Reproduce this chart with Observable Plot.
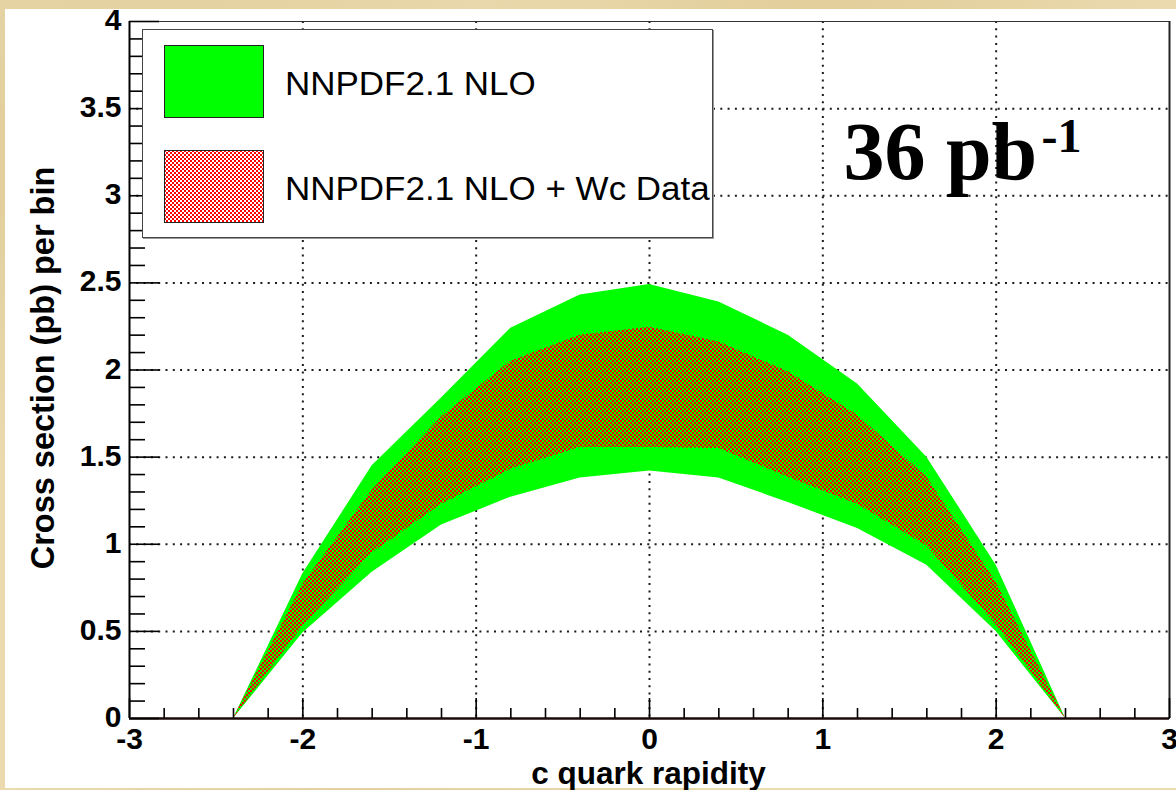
<!DOCTYPE html>
<html>
<head>
<meta charset="utf-8">
<script src="https://cdn.jsdelivr.net/npm/d3@7"></script>
<script src="https://cdn.jsdelivr.net/npm/@observablehq/plot@0.6"></script>
<style>
  html, body { margin: 0; padding: 0; width: 1176px; height: 790px; overflow: hidden; }
  body {
    position: relative;
    font-family: "Liberation Sans", Arial, sans-serif;
    background:
      radial-gradient(ellipse at 12% 20%, rgba(205,175,110,0.35), transparent 35%),
      radial-gradient(ellipse at 70% 5%, rgba(210,180,115,0.35), transparent 30%),
      radial-gradient(ellipse at 95% 70%, rgba(205,175,110,0.3), transparent 30%),
      radial-gradient(ellipse at 30% 98%, rgba(215,185,125,0.3), transparent 30%),
      #eadaae;
  }
  #panel { position: absolute; left: 5px; top: 9px; width: 1171px; height: 779px; background: #fff; }
  #chart { position: absolute; left: 0; top: 0; }
  #legend {
    position: absolute; left: 142px; top: 29px; width: 571px; height: 209px;
    box-sizing: border-box; background: #fff; border: 1px solid #444;
    box-shadow: 1px 1px 0 #999;
  }
  .sw { position: absolute; left: 21px; width: 100px; height: 73px; display: block; }
  .lab { position: absolute; left: 142px; font-size: 33px; line-height: 1; color: #000; white-space: nowrap;
         font-family: "Liberation Sans", Arial, sans-serif; transform: scaleX(1.06); transform-origin: left center; }
</style>
</head>
<body>
<div id="panel"></div>
<div id="chart"></div>
<div id="legend"></div>
<script>
// ---- data ----
const rapidity = [-2.4, -2, -1.6, -1.2, -0.8, -0.4, 0, 0.4, 0.8, 1.2, 1.6, 2, 2.4];
const nloHigh  = [0, 0.83, 1.45, 1.84, 2.24, 2.43, 2.49, 2.39, 2.20, 1.92, 1.50, 0.88, 0];
const nloLow   = [0, 0.49, 0.84, 1.11, 1.27, 1.38, 1.42, 1.38, 1.24, 1.09, 0.88, 0.50, 0];
const wcHigh   = [0, 0.77, 1.31, 1.73, 2.05, 2.20, 2.245, 2.16, 1.99, 1.74, 1.385, 0.78, 0];
const wcLow    = [0, 0.53, 0.95, 1.23, 1.43, 1.555, 1.555, 1.55, 1.385, 1.23, 0.99, 0.54, 0];

const xTicks = [-3, -2, -1, 0, 1, 2, 3];
const yTicks = [0, 0.5, 1, 1.5, 2, 2.5, 3, 3.5, 4];
const xLabel = "c quark rapidity";
const yLabel = "Cross section (pb) per bin";
const legendLabels = ["NNPDF2.1 NLO", "NNPDF2.1 NLO + Wc Data"];
const lumiText = "36 pb";
const lumiExp = "-1";

// ---- derived table ----
const rows = rapidity.map((x, i) => ({x, nlo1: nloLow[i], nlo2: nloHigh[i], wc1: wcLow[i], wc2: wcHigh[i]}));
const xMinor = d3.range(-15, 16).filter(i => i % 5 !== 0).map(i => i / 5);
const yMinor = d3.range(0, 41).filter(i => i % 5 !== 0).map(i => i / 10);

const W = 1176, H = 790;
const mL = 129, mR = 7, mT = 21, mB = 72;
const fw = W - mL - mR, fh = H - mT - mB;

const grid = {stroke: "#1a1a1a", strokeWidth: 2, strokeDasharray: "2,5.3"};
const tick = {stroke: "#000", strokeWidth: 1.6};

const chart = Plot.plot({
  width: W, height: H,
  marginLeft: mL, marginRight: mR, marginTop: mT, marginBottom: mB,
  x: {domain: [xTicks[0], xTicks[xTicks.length - 1]], label: null},
  y: {domain: [yTicks[0], yTicks[yTicks.length - 1]], label: null},
  style: {background: "transparent", fontFamily: "'Liberation Sans', Arial, sans-serif", color: "#000", overflow: "visible"},
  marks: [
    Plot.ruleX(xTicks.slice(1, -1), grid),
    Plot.ruleY(yTicks.slice(1, -1), grid),
    Plot.areaY(rows, {x: "x", y1: "nlo1", y2: "nlo2", fill: "#00ff00"}),
    Plot.areaY(rows, {x: "x", y1: "wc1", y2: "wc2", fill: "url(#wcPattern)"}),
    Plot.frame({stroke: "#333", strokeWidth: 1}),
    Plot.ruleX([xTicks[0]], {stroke: "#000", strokeWidth: 2}),
    Plot.ruleX([xTicks[xTicks.length - 1]], {stroke: "#222", strokeWidth: 2}),
    Plot.ruleY([yTicks[0]], {stroke: "#1c0808", strokeWidth: 2.5}),
    Plot.ruleY(yTicks, {...tick, insetRight: fw - 30}),
    Plot.ruleY(yMinor, {...tick, insetRight: fw - 16}),
    Plot.ruleX(xTicks, {...tick, insetTop: fh - 20}),
    Plot.ruleX(xMinor, {...tick, insetTop: fh - 10}),
    Plot.axisY({ticks: yTicks, tickSize: 0, tickPadding: 8, dy: -1, fontSize: 30, fontWeight: "bold", tickFormat: d => String(d), label: null}),
    Plot.axisX({ticks: xTicks, tickSize: 0, tickPadding: 9, fontSize: 30, fontWeight: "bold", tickFormat: d => String(d), label: null}),
    Plot.text([yLabel], {frameAnchor: "left", rotate: -90, dx: -76, dy: -2, textAnchor: "middle", lineAnchor: "bottom", fontSize: 32.5, fontWeight: "bold"}),
    Plot.text([xLabel], {frameAnchor: "bottom", dy: 65, dx: -1, textAnchor: "middle", lineAnchor: "bottom", fontSize: 31.5, fontWeight: "bold"}),
    Plot.text([lumiText], {frameAnchor: "top-left", dx: 714, dy: 157, textAnchor: "start", lineAnchor: "bottom", fontSize: 82, fontWeight: "bold", fontFamily: "'Liberation Serif', 'DejaVu Serif', serif"}),
    Plot.text([lumiExp], {frameAnchor: "top-left", dx: 912, dy: 130, textAnchor: "start", lineAnchor: "bottom", fontSize: 48, fontWeight: "bold", fontFamily: "'Liberation Serif', 'DejaVu Serif', serif"})
  ]
});

// checker pattern (transparent + red) used by the "+ Wc Data" band
const ns = "http://www.w3.org/2000/svg";
function makePattern(id, bg) {
  const pat = document.createElementNS(ns, "pattern");
  pat.setAttribute("id", id);
  pat.setAttribute("width", "4"); pat.setAttribute("height", "4");
  pat.setAttribute("patternUnits", "userSpaceOnUse");
  if (bg) {
    const b = document.createElementNS(ns, "rect");
    b.setAttribute("width", 4); b.setAttribute("height", 4); b.setAttribute("fill", bg);
    pat.appendChild(b);
  }
  [[0, 0], [2, 2]].forEach(([px, py]) => {
    const r = document.createElementNS(ns, "rect");
    r.setAttribute("x", px); r.setAttribute("y", py);
    r.setAttribute("width", 2); r.setAttribute("height", 2);
    r.setAttribute("fill", "#ff0000");
    r.setAttribute("shape-rendering", "crispEdges");
    pat.appendChild(r);
  });
  return pat;
}
const defs = document.createElementNS(ns, "defs");
defs.appendChild(makePattern("wcPattern", null));
chart.insertBefore(defs, chart.firstChild);
document.getElementById("chart").appendChild(chart);

// legend (inside the frame, top-left)
const legend = document.getElementById("legend");
legendLabels.forEach((t, i) => {
  const sw = document.createElementNS(ns, "svg");
  sw.setAttribute("class", "sw");
  sw.setAttribute("width", 100); sw.setAttribute("height", 73);
  sw.style.top = (i === 0 ? 15 : 120) + "px";
  if (i === 1) {
    const d = document.createElementNS(ns, "defs");
    d.appendChild(makePattern("legPattern", "#ffffff"));
    sw.appendChild(d);
  }
  const r = document.createElementNS(ns, "rect");
  r.setAttribute("x", 0.5); r.setAttribute("y", 0.5);
  r.setAttribute("width", 99); r.setAttribute("height", 72);
  r.setAttribute("fill", i === 0 ? "#00ff00" : "url(#legPattern)");
  r.setAttribute("stroke", "#222"); r.setAttribute("stroke-width", 1);
  sw.appendChild(r);
  legend.appendChild(sw);
  const lab = document.createElement("div");
  lab.className = "lab";
  lab.style.top = (i === 0 ? 37 : 142) + "px";
  lab.textContent = t;
  legend.appendChild(lab);
});
</script>
</body>
</html>
